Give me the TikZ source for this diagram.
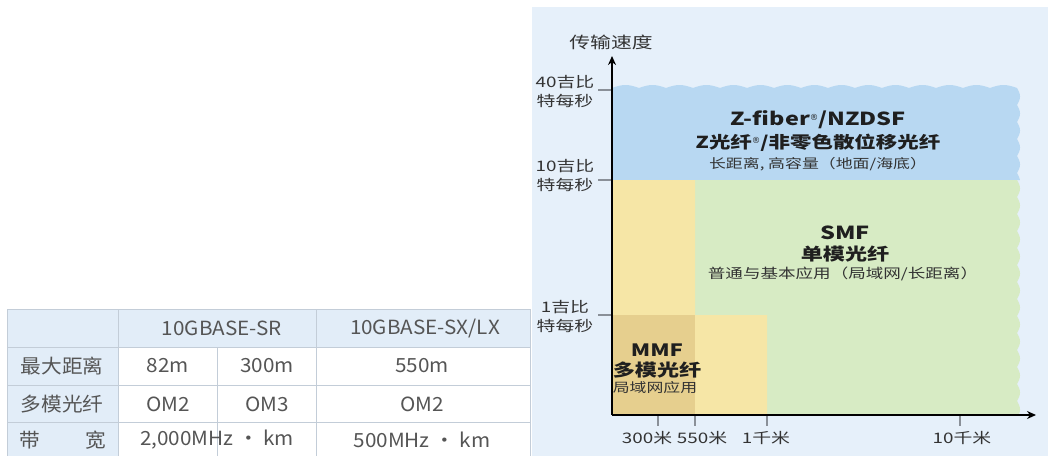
\documentclass[tikz,border=0pt]{standalone}
\usepackage{fontspec}
\setmainfont{Noto Sans CJK SC}
\newfontfamily\cf{Noto Sans CJK SC}[FakeStretch=1.3]
\newfontfamily\tf{Noto Sans CJK SC}[FakeStretch=1.06]
\newfontfamily\dv{DejaVu Sans}
\usetikzlibrary{arrows.meta}
\definecolor{panelbg}{HTML}{E6F0FA}
\definecolor{zblue}{HTML}{B8D8F2}
\definecolor{smfgreen}{HTML}{D7EBC4}
\definecolor{myellow}{HTML}{F6E6A6}
\definecolor{mtan}{HTML}{E6CF8E}
\definecolor{tickgray}{HTML}{8A9098}
\definecolor{thead}{HTML}{E2EDF8}
\definecolor{tline}{HTML}{C3CDD8}
\definecolor{ttext}{HTML}{555555}
\definecolor{ctext}{HTML}{333333}
\newcommand{\regmark}{\raisebox{5pt}{\dv\mdseries\fontsize{8.5}{8.5}\selectfont ®}}
\tikzset{
  axisline/.style={line width=1.8pt, black, -{Stealth[length=9pt,width=8pt]}},
  tickline/.style={tickgray, line width=1.2pt},
  ylab/.style={font=\cf\fontsize{14.5}{19}\selectfont, text=ctext, align=center, inner sep=0pt},
  xlab/.style={font=\cf\fontsize{14.5}{16}\selectfont, text=ctext, inner sep=0pt},
  ttl/.style={font=\cf\bfseries\fontsize{17}{19}\selectfont, text=black!88, inner sep=0pt},
  sub/.style={font=\cf\fontsize{13}{15}\selectfont, text=ctext, inner sep=0pt},
  cell/.style={font=\tf\fontsize{19.5}{22}\selectfont, text=ttext, inner sep=0pt},
  grid/.style={tline, line width=1pt}
}
\begin{document}
\begin{tikzpicture}[x=1pt,y=-1pt]
\useasboundingbox (0,0) rectangle (1048,456);
\fill[white] (0,0) rectangle (1048,456);
% ---------- right panel ----------
\fill[panelbg] (532,7) rectangle (1048,456);
% blue region (wavy top and right)
\fill[zblue] (612,180) -- (612,88)
  -- plot[domain=0:405, samples=300] ({612+\x}, {88-3*abs(sin(\x*6.6667))})
  -- plot[domain=0:92, samples=120] ({1017+3*abs(sin(\x*10.588))}, {88+\x})
  -- cycle;
% green region
\fill[smfgreen] (612,415) -- (612,180) -- (1017,180)
  -- plot[domain=0:235, samples=250] ({1017+3*abs(sin(\x*10.588))}, {180+\x})
  -- cycle;
% yellow and tan
\fill[myellow] (612,415) -- (612,180) -- (695,180) -- (695,315) -- (767,315) -- (767,415) -- cycle;
\fill[mtan] (612,315) rectangle (695,415);
% axes
\coordinate (O) at (612,415);
\coordinate (ytop) at (612,56);
\coordinate (xend) at (1036,415);
% ticks
\coordinate (t40) at (612,90);
\coordinate (t10) at (612,180);
\coordinate (t1) at (612,315);
\draw[tickline] (t40) -- ++(-14,0);
\draw[tickline] (t10) -- ++(-14,0);
\draw[tickline] (t1) -- ++(-14,0);
\coordinate (x300) at (658,415);
\coordinate (x550) at (695,415);
\coordinate (x1k) at (767,415);
\coordinate (x10k) at (960,415);
\foreach \c in {x300,x550,x1k,x10k} \draw[tickline] (\c) -- ++(0,11);
\draw[axisline] (O) -- (ytop);
\draw[axisline] (O) -- (xend);
% axis labels
\node[font=\cf\fontsize{16}{18}\selectfont, text=ctext, inner sep=0pt] (ytitle) at (611,42) {传输速度};
\node[ylab] (l40) at (565,91) {40吉比\\特每秒};
\node[ylab] (l10) at (565,175) {10吉比\\特每秒};
\node[ylab] (l1) at (565,316) {1吉比\\特每秒};
\node[xlab] (lx300) at (647,438) {300米};
\node[xlab] (lx550) at (702,438) {550米};
\node[xlab] (lx1k) at (766,438) {1千米};
\node[xlab] (lx10k) at (962,438) {10千米};
% region texts
\node[ttl, font=\cf\bfseries\fontsize{18}{20}\selectfont] (zt1) at (818,120) {Z-fiber\regmark/NZDSF};
\node[ttl, font=\cf\bfseries\fontsize{16.5}{18}\selectfont] (zt2) at (818,143) {Z光纤\regmark/非零色散位移光纤};
\node[sub] (zt3) at (818,164) {长距离, 高容量（地面/海底）};
\node[ttl, font=\cf\bfseries\fontsize{18}{20}\selectfont] (st1) at (845,233) {SMF};
\node[ttl] (st2) at (845,254) {单模光纤};
\node[sub, font=\cf\fontsize{13.5}{15}\selectfont] (st3) at (843,274) {普通与基本应用（局域网/长距离）};
\node[ttl] (mt1) at (657,350) {MMF};
\node[ttl] (mt2) at (657,370) {多模光纤};
\node[sub] (mt3) at (655,388) {局域网应用};
% ---------- table ----------
\fill[thead] (7,309) rectangle (530,347);
\fill[thead] (7,347) rectangle (118,456);
\draw[grid] (7,309) -- (530,309);
\draw[grid] (7,347) -- (530,347);
\draw[grid] (7,385) -- (530,385);
\draw[grid] (7,422) -- (530,422);
\draw[grid] (7,309) -- (7,456);
\draw[grid] (118,309) -- (118,456);
\draw[grid] (217,347) -- (217,456);
\draw[grid] (316,309) -- (316,456);
\draw[grid] (530,309) -- (530,456);
\node[cell] (h1) at (222,328) {10GBASE-SR};
\node[cell] (h2) at (425,328) {10GBASE-SX/LX};
\node[cell] (r1) at (62,366) {最大距离};
\node[cell] (r1a) at (168,366) {82m};
\node[cell] (r1b) at (267,366) {300m};
\node[cell] (r1c) at (422,366) {550m};
\node[cell] (r2) at (62,404) {多模光纤};
\node[cell] (r2a) at (168,404) {OM2};
\node[cell] (r2b) at (267,404) {OM3};
\node[cell] (r2c) at (422,404) {OM2};
\node[cell] (r3a) at (30,440) {带};
\node[cell] (r3b) at (96,440) {宽};
\node[cell] (r3c) at (217,440) {2,000MHz · km};
\node[cell] (r3d) at (422,440) {500MHz · km};
\end{tikzpicture}
\end{document}
